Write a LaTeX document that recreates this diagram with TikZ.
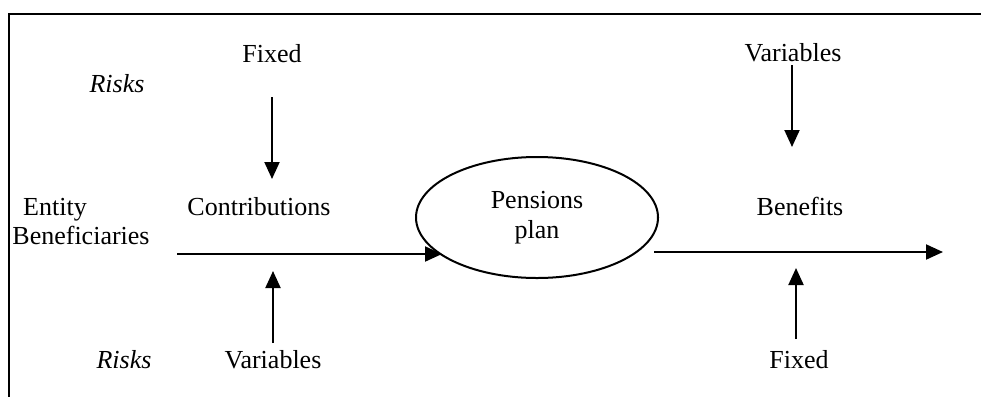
\documentclass[tikz,border=0pt]{standalone}
\usepackage{fontspec}
\setmainfont{Liberation Serif}
\usetikzlibrary{arrows.meta,shapes.geometric}
\begin{document}
\begin{tikzpicture}[x=1pt,y=-1pt,
  lbl/.style={anchor=base,inner sep=0pt,font=\fontsize{26}{30}\selectfont},
  risk/.style={lbl,font=\fontsize{26}{30}\selectfont\itshape},
  flow/.style={line width=2pt,-{Triangle[length=17pt,width=15pt]}},
  frameline/.style={line width=2pt}]
\useasboundingbox (0,0) rectangle (981,397);
% frame
\coordinate (ftr) at (981,14);
\coordinate (ftl) at (9,14);
\coordinate (fbl) at (9,397);
\draw[frameline] (ftr) -- (ftl) -- (fbl);
% texts
\node[lbl] (fixedA) at (272,62) {Fixed};
\node[risk] (risksA) at (117,92) {Risks};
\node[lbl] (entity) at (55,215) {Entity};
\node[lbl] (benef) at (81,244) {Beneficiaries};
\node[lbl] (contrib) at (259,215) {Contributions};
\node[risk] (risksB) at (124,368) {Risks};
\node[lbl] (varsA) at (273,368) {Variables};
\node[lbl] (varsB) at (793,61) {Variables};
\node[lbl] (benefits) at (800,215) {Benefits};
\node[lbl] (fixedB) at (799,368) {Fixed};
\node[draw,ellipse,line width=2pt,minimum width=242pt,minimum height=121pt,inner sep=0pt,
      align=center,font=\fontsize{26}{30}\selectfont] (plan) at (537,217.5) {Pensions\\plan};
% arrow end points
\coordinate (d1s) at (272,97);  \coordinate (d1e) at (272,179);
\coordinate (u1s) at (273,343); \coordinate (u1e) at (273,271);
\coordinate (h1s) at (177,254); \coordinate (h1e) at (442,254);
\coordinate (h2s) at (654,252); \coordinate (h2e) at (943,252);
\coordinate (d2s) at (792,65);  \coordinate (d2e) at (792,147);
\coordinate (u2s) at (796,339); \coordinate (u2e) at (796,268);
% arrows
\draw[flow] (d1s) -- (d1e);
\draw[flow] (u1s) -- (u1e);
\draw[flow] (h1s) -- (h1e);
\draw[flow] (h2s) -- (h2e);
\draw[flow] (d2s) -- (d2e);
\draw[flow] (u2s) -- (u2e);
\end{tikzpicture}
\end{document}
